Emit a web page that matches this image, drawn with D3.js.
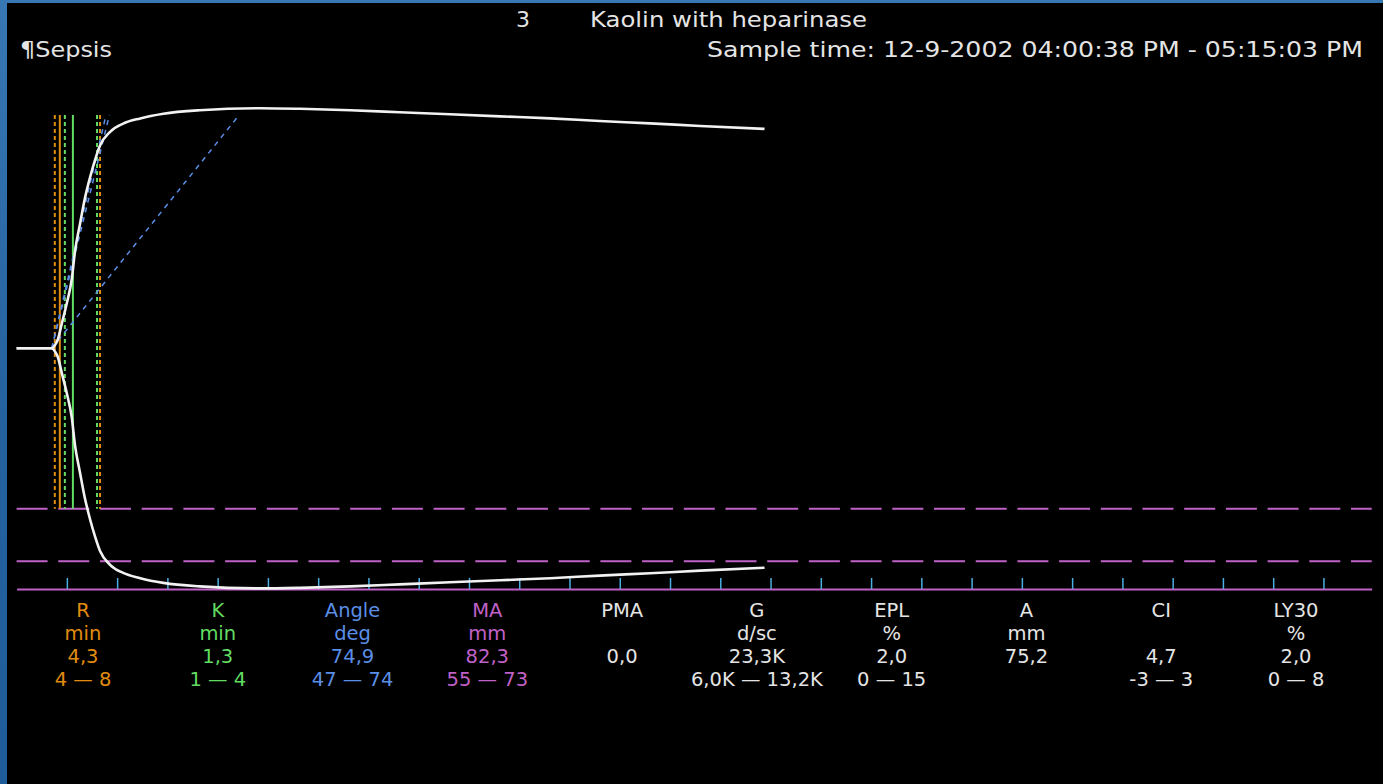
<!DOCTYPE html>
<html>
<head>
<meta charset="utf-8">
<script src="https://cdn.jsdelivr.net/npm/d3@7"></script>
<style>
  html, body { margin: 0; padding: 0; background: #2a66a2; overflow: hidden; }
  text { font-family: "DejaVu Sans", Verdana, sans-serif; }
</style>
</head>
<body>
<svg id="chart" width="1383" height="784"></svg>
<script>
// ---- TEG trace: clot amplitude (mm) over time (min) ----
const traceTime = [0, 3.5, 3.8, 4.1, 4.5, 5.0, 5.5, 5.8, 6.3, 6.8, 7.3, 7.8, 8.3, 9.3, 10.6, 12.3, 14.6, 18.2, 24.2, 28.2, 33.2, 38.1, 43.1, 48.1, 53.1, 58.0, 63.0, 68.0, 74.4];
const traceAmp  = [0, 0,   1.0, 3.0, 8.5, 15.5, 24.0, 33.0, 42.5, 51.5, 58.5, 64.5, 69.5, 74.2, 77.0, 78.8, 80.4, 81.6, 82.3, 82.1, 81.6, 80.9, 80.2, 79.5, 78.8, 77.9, 77.1, 76.2, 75.2];

// split point, reaction time and clot kinetics (min)
const splitTime = 3.5;
const rTime = 4.3;
const kTime = 1.3;
// reference guides (min)
const rGuides = [3.8, 8.3];
const kGuides = [4.8, 8.0];
// alpha angle and its normal range (deg)
const alphaAngles = [74.9, 47, 74];
// MA normal range (mm)
const maRange = [55, 73];
// time ticks (min)
const timeTicks = d3.range(5, 131, 5);

// ---- parameter table ----
const paramNames  = ["R", "K", "Angle", "MA", "PMA", "G", "EPL", "A", "CI", "LY30"];
const paramUnits  = ["min", "min", "deg", "mm", "", "d/sc", "%", "mm", "", "%"];
const paramValues = ["4,3", "1,3", "74,9", "82,3", "0,0", "23,3K", "2,0", "75,2", "4,7", "2,0"];
const paramRanges = ["4 \u2014 8", "1 \u2014 4", "47 \u2014 74", "55 \u2014 73", "", "6,0K \u2014 13,2K", "0 \u2014 15", "", "-3 \u2014 3", "0 \u2014 8"];

// ---- header ----
const sampleNo = "3";
const assayName = "Kaolin with heparinase";
const patientLabel = "\u00B6Sepsis";
const sampleTime = "Sample time: 12-9-2002 04:00:38 PM - 05:15:03 PM";

const ORANGE = "#e08c10", GREEN = "#62dc62", BLUE = "#5b8ee6", PURPLE = "#c061c8",
      TICK = "#4aaee0", WHITE = "#f2f2f2", TEXT = "#e4e4e4";
const paramColors = [ORANGE, GREEN, BLUE, PURPLE, TEXT, TEXT, TEXT, TEXT, TEXT, TEXT];

const svg = d3.select("#chart");

// background
const defs = svg.append("defs");
const grad = defs.append("linearGradient").attr("id", "bg").attr("x1", 0).attr("y1", 0).attr("x2", 0).attr("y2", 1);
grad.append("stop").attr("offset", 0).attr("stop-color", "#3778b4");
grad.append("stop").attr("offset", 0.5).attr("stop-color", "#2563a0");
grad.append("stop").attr("offset", 1).attr("stop-color", "#1f5d9a");
svg.append("rect").attr("width", 1383).attr("height", 784).attr("fill", "url(#bg)");
svg.append("rect").attr("x", 7).attr("y", 3).attr("width", 1376).attr("height", 781).attr("fill", "#000");

// scales
const x = d3.scaleLinear().domain([0, 134.8]).range([16.6, 1371.7]);
// half-amplitude (mm) about the trace centre line
const yHalf = d3.scaleLinear().domain([-41.25, 41.25]).range([589, 107.6]);

// MA range lines
svg.append("g").selectAll("line").data(maRange).join("line")
  .attr("x1", x(0)).attr("x2", x.range()[1])
  .attr("y1", d => yHalf(-d / 2)).attr("y2", d => yHalf(-d / 2))
  .attr("stroke", PURPLE).attr("stroke-width", 2)
  .attr("stroke-dasharray", "31,10.7");

// time axis along the bottom
const axis = d3.axisTop(x).tickValues(timeTicks).tickSizeInner(11).tickSizeOuter(0).tickFormat("");
const gAxis = svg.append("g").attr("transform", `translate(0,${yHalf(-41.25)})`).call(axis);
gAxis.select(".domain").attr("stroke", PURPLE).attr("stroke-width", 2);
gAxis.selectAll(".tick line").attr("stroke", TICK).attr("stroke-width", 1.5);

// vertical guides
const vTop = yHalf(40), vBot = yHalf(-maRange[0] / 2);
function vline(t, color, dashed) {
  svg.append("line")
    .attr("x1", x(t)).attr("x2", x(t)).attr("y1", vTop).attr("y2", vBot)
    .attr("stroke", color).attr("stroke-width", 2)
    .attr("stroke-dasharray", dashed ? "4,3" : null);
}
rGuides.forEach(t => vline(t, ORANGE, true));
kGuides.forEach(t => vline(t, GREEN, true));
vline(rTime, ORANGE, false);
vline(rTime + kTime, GREEN, false);

// alpha angle lines from the split point (2 mm of chart per minute)
svg.append("g").selectAll("line").data(alphaAngles).join("line")
  .attr("x1", x(splitTime)).attr("y1", yHalf(0))
  .attr("x2", d => x(splitTime + (40 / Math.tan(d * Math.PI / 180)) / 2))
  .attr("y2", yHalf(40))
  .attr("stroke", BLUE).attr("stroke-width", 1.5).attr("stroke-dasharray", "5,5");

// trace (upper and lower halves)
const pts = traceTime.map((t, i) => [t, traceAmp[i]]);
const upper = d3.line().x(d => x(d[0])).y(d => yHalf(d[1] / 2)).curve(d3.curveMonotoneX);
const lower = d3.line().x(d => x(d[0])).y(d => yHalf(-d[1] / 2)).curve(d3.curveMonotoneX);
svg.append("path").attr("d", upper(pts)).attr("fill", "none").attr("stroke", WHITE).attr("stroke-width", 2.6);
svg.append("path").attr("d", lower(pts)).attr("fill", "none").attr("stroke", WHITE).attr("stroke-width", 2.6);

// header
svg.append("text").attr("x", 523).attr("y", 27).attr("text-anchor", "middle")
  .attr("font-size", 22).attr("fill", TEXT).text(sampleNo);
svg.append("text").attr("x", 590).attr("y", 27).attr("font-size", 22).attr("fill", TEXT)
  .attr("textLength", 277).attr("lengthAdjust", "spacingAndGlyphs").text(assayName);
svg.append("text").attr("x", 20).attr("y", 57).attr("font-size", 22).attr("fill", TEXT)
  .attr("textLength", 92).attr("lengthAdjust", "spacingAndGlyphs").text(patientLabel);
svg.append("text").attr("x", 707).attr("y", 57).attr("font-size", 22).attr("fill", TEXT)
  .attr("textLength", 656).attr("lengthAdjust", "spacingAndGlyphs").text(sampleTime);

// parameter table
const col = d3.scalePoint().domain(paramNames).range([83, 1296]);
const rows = [paramNames, paramUnits, paramValues, paramRanges];
const rowY = [617, 640, 663, 686];
rows.forEach((row, r) => {
  svg.append("g").selectAll("text").data(row).join("text")
    .attr("x", (d, i) => col(paramNames[i]))
    .attr("y", rowY[r])
    .attr("text-anchor", "middle")
    .attr("font-size", 19.5)
    .attr("fill", (d, i) => paramColors[i])
    .text(d => d);
});
</script>
</body>
</html>
